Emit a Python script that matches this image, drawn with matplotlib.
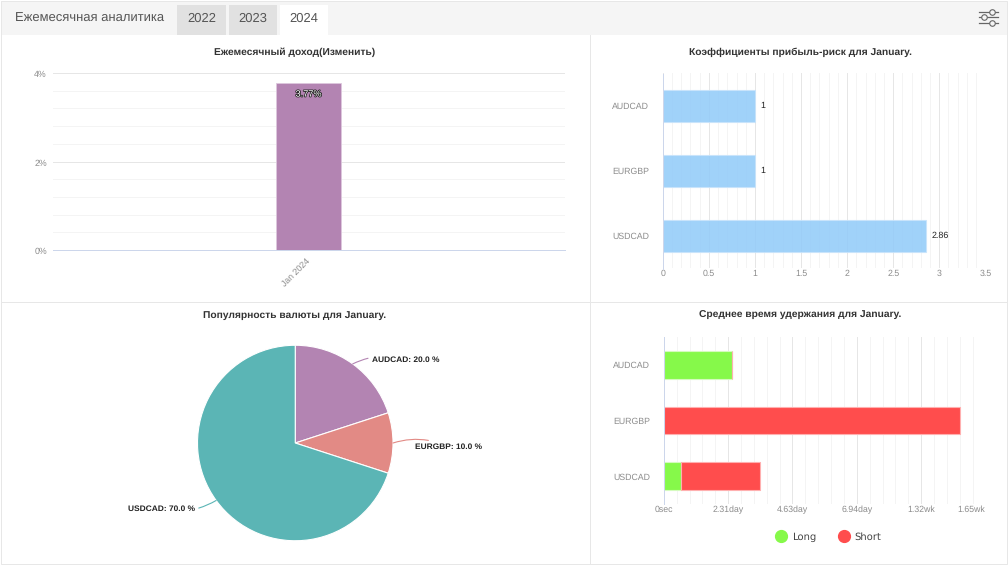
#!/usr/bin/env python
# monthly analytics dashboard: four small charts under a tab header
import matplotlib
matplotlib.use('Agg')
import matplotlib.pyplot as plt
import matplotlib.patheffects as pe
from matplotlib.patches import Rectangle
from matplotlib.lines import Line2D
from matplotlib.ticker import MultipleLocator, FuncFormatter, FixedLocator
from matplotlib.transforms import ScaledTranslation
import numpy as np

months = ['Jan 2024']
monthly_return = [3.77]

pairs = ['AUDCAD', 'EURGBP', 'USDCAD']
risk_reward = [1, 1, 2.86]

pie_pairs = ['AUDCAD', 'EURGBP', 'USDCAD']
pie_share = [20.0, 10.0, 70.0]

# holding time in seconds
hold_long = [213000, 0, 52000]
hold_short = [0, 922000, 247000]
hold_ticks = [0, 200000, 400000, 600000, 800000, 1000000]
hold_labels = ['0sec', '2.31day', '4.63day', '6.94day', '1.32wk', '1.65wk']

tabs = ['2022', '2023', '2024']

W, H = 1008, 565
FONT = 'Liberation Sans'
LABEL_GREY = '#8c8c8c'
AXIS_LINE = '#ccd6eb'
GRID_MAJOR = '#e6e6e6'
GRID_MINOR = '#f4f4f4'
BORDER = '#e7e7e7'
PURPLE = '#b384b2'
SALMON = '#e28a85'
TEAL = '#5bb5b5'
BLUE = '#90caf9'
GREEN = '#86f94a'
RED = '#ff4d4d'
THIN = 0.72  # one pixel at 100 dpi

plt.rcParams['font.family'] = FONT
plt.rcParams['text.hinting'] = 'no_hinting'

fig = plt.figure(figsize=(W / 100, H / 100), dpi=100, facecolor='white')


def px_axes(left, top, right, bottom):
    return fig.add_axes([left / W, 1 - bottom / H, (right - left) / W, (bottom - top) / H])


def clean(ax):
    for s in ax.spines.values():
        s.set_visible(False)
    ax.set_axisbelow(True)
    ax.patch.set_alpha(0)


def hbar_style(ax, xpad):
    clean(ax)
    ax.spines['left'].set_visible(True)
    ax.spines['left'].set_color(AXIS_LINE)
    ax.spines['left'].set_linewidth(THIN)
    ax.grid(True, axis='x', which='major', color=GRID_MAJOR, lw=THIN)
    ax.grid(True, axis='x', which='minor', color=GRID_MINOR, lw=THIN)
    ax.tick_params(axis='both', which='both', length=0)
    ax.tick_params(axis='y', labelsize=6.3, labelcolor=LABEL_GREY, pad=10)
    ax.tick_params(axis='x', labelsize=6.3, labelcolor=LABEL_GREY, pad=xpad)


# page chrome in pixel coordinates
bg = fig.add_axes([0, 0, 1, 1])
bg.set_xlim(0, W)
bg.set_ylim(H, 0)
bg.axis('off')
bg.add_patch(Rectangle((1, 1), W - 2, 34, fc='#f5f5f5', ec='none'))
bg.add_patch(Rectangle((1, 1), W - 2, H - 2, fc='none', ec=BORDER, lw=THIN))
bg.plot([589.5, 589.5], [35, H - 1], color=BORDER, lw=THIN)
bg.plot([1, W - 1], [301.5, 301.5], color=BORDER, lw=THIN)
bg.text(15, 18.5, 'Ежемесячная аналитика', fontsize=9.4, color='#555555', va='center')
tab_x = [(177, 226), (229, 277), (280, 328)]
for (x0, x1), name in zip(tab_x, tabs):
    face = 'white' if name == '2024' else '#e1e1e1'
    bg.add_patch(Rectangle((x0, 5), x1 - x0, 30, fc=face, ec='none'))
    bg.text((x0 + x1) / 2, 18.5, name, fontsize=9.4, color='#555555', ha='center', va='center')
# settings icon
for y, cx in zip([11.5, 17, 22.5], [992, 984, 992]):
    bg.plot([979, 998], [y, y], color='#666666', lw=0.9)
    bg.plot([cx], [y], 'o', ms=4, mfc='#f5f5f5', mec='#666666', mew=0.8)

title_kw = dict(fontsize=7.4, fontweight='bold', color='#333333', ha='center', va='center')
bg.text(295, 52.5, 'Ежемесячный доход(Изменить)', **title_kw)
bg.text(800, 52.5, 'Коэффициенты прибыль-риск для January.', **title_kw)
bg.text(295, 315.5, 'Популярность валюты для January.', **title_kw)
bg.text(800, 315.5, 'Среднее время удержания для January.', **title_kw)

# monthly return columns
ax1 = px_axes(52.5, 73, 564.5, 250)
clean(ax1)
ax1.spines['bottom'].set_visible(True)
ax1.spines['bottom'].set_color(AXIS_LINE)
ax1.spines['bottom'].set_linewidth(THIN)
ax1.bar(months, monthly_return, width=0.127, color=PURPLE, edgecolor='#ddc8dd', lw=0.6)
ax1.set_xlim(-0.5, 0.5)
ax1.set_ylim(0, 4)
ax1.yaxis.set_major_locator(MultipleLocator(2))
ax1.yaxis.set_minor_locator(MultipleLocator(0.4))
ax1.yaxis.set_major_formatter(FuncFormatter(lambda v, p: '%d%%' % v))
ax1.grid(True, axis='y', which='major', color=GRID_MAJOR, lw=THIN)
ax1.grid(True, axis='y', which='minor', color=GRID_MINOR, lw=THIN)
ax1.tick_params(axis='both', which='both', length=0)
ax1.tick_params(axis='y', labelsize=6.3, labelcolor=LABEL_GREY, pad=4)
ax1.tick_params(axis='x', labelsize=6.3, labelcolor=LABEL_GREY, pad=5)
for lab in ax1.get_yticklabels():
    lab.set_verticalalignment('center')
    lab.set_transform(lab.get_transform() + ScaledTranslation(0, -2 / 100, fig.dpi_scale_trans))
for lab in ax1.get_xticklabels():
    lab.set_rotation(45)
    lab.set_ha('center')
    lab.set_transform(lab.get_transform() + ScaledTranslation(-12 / 100, 0, fig.dpi_scale_trans))
for i, v in enumerate(monthly_return):
    ax1.annotate('%.2f%%' % v, (i, v), xytext=(0, -8), textcoords='offset points',
                 ha='center', va='center', fontsize=6.6, color='white',
                 path_effects=[pe.withStroke(linewidth=1.1, foreground='#222222')])

# risk/reward bars
ax2 = px_axes(662.8, 73.5, 985.3, 268.5)
hbar_style(ax2, 0.5)
ax2.barh(pairs, risk_reward, height=0.5, color=BLUE, alpha=0.85, edgecolor='#c8e4fb', lw=0.8)
ax2.set_ylim(2.5, -0.5)
ax2.set_xlim(0, 3.5)
ax2.xaxis.set_major_locator(MultipleLocator(0.5))
ax2.xaxis.set_minor_locator(MultipleLocator(0.1))
ax2.xaxis.set_major_formatter(FuncFormatter(lambda v, p: '%g' % v))
ax2.get_xticklabels()[-1].set_ha('right')
for i, v in enumerate(risk_reward):
    ax2.annotate('%g' % v, (v, i), xytext=(4, 0), textcoords='offset points',
                 va='center', fontsize=6.4, color='#222222')

# currency popularity pie
ax3 = px_axes(197.5, 345, 393, 541)
wedges, _ = ax3.pie(pie_share, colors=[PURPLE, SALMON, TEAL], startangle=90, counterclock=False,
                    radius=1, wedgeprops=dict(edgecolor='white', linewidth=0.8))
ax3.set_xlim(-1, 1)
ax3.set_ylim(-1, 1)
# label anchor offsets from the slice edge, in points
label_offset = [(14, 3), (16, -3), (-15.5, -6)]
for w, name, share, off in zip(wedges, pie_pairs, pie_share, label_offset):
    ang = np.deg2rad((w.theta1 + w.theta2) / 2)
    x, y = np.cos(ang), np.sin(ang)
    ha = 'left' if x > 0 else 'right'
    ax3.annotate('%s: %.1f %%' % (name, share), (x, y), xytext=off, textcoords='offset points',
                 ha=ha, va='center', fontsize=6, fontweight='bold', color='#222222',
                 annotation_clip=False,
                 arrowprops=dict(arrowstyle='-', color=w.get_facecolor(), lw=0.8, shrinkA=1, shrinkB=0,
                                 connectionstyle='arc3,rad=0.2'))

# average hold time, stacked
ax4 = px_axes(663.8, 337, 985.5, 504)
hbar_style(ax4, 1)
ax4.barh(pairs, hold_long, height=0.5, color=GREEN, edgecolor='#d5fbbf', lw=0.8)
ax4.barh(pairs, hold_short, left=hold_long, height=0.5, color=RED, edgecolor='#ffb0b0', lw=0.8)
ax4.set_ylim(2.5, -0.5)
ax4.set_xlim(0, 1000000)
ax4.xaxis.set_major_locator(FixedLocator(hold_ticks))
ax4.xaxis.set_minor_locator(MultipleLocator(40000))
ax4.set_xticklabels(hold_labels)
ax4.get_xticklabels()[-1].set_ha('right')

handles = [Line2D([], [], ls='none', marker='o', ms=8.5, color=GREEN),
           Line2D([], [], ls='none', marker='o', ms=8.5, color=RED)]
bg.legend(handles, ['Long', 'Short'], loc='center', bbox_to_anchor=(829 / W, 1 - 537 / H),
          bbox_transform=fig.transFigure, ncol=2, frameon=False,
          labelcolor='#444444', columnspacing=2.2, handletextpad=0.6, handlelength=1,
          prop=dict(family='DejaVu Sans', size=7.2))

fig.savefig('out.png', dpi=100)
